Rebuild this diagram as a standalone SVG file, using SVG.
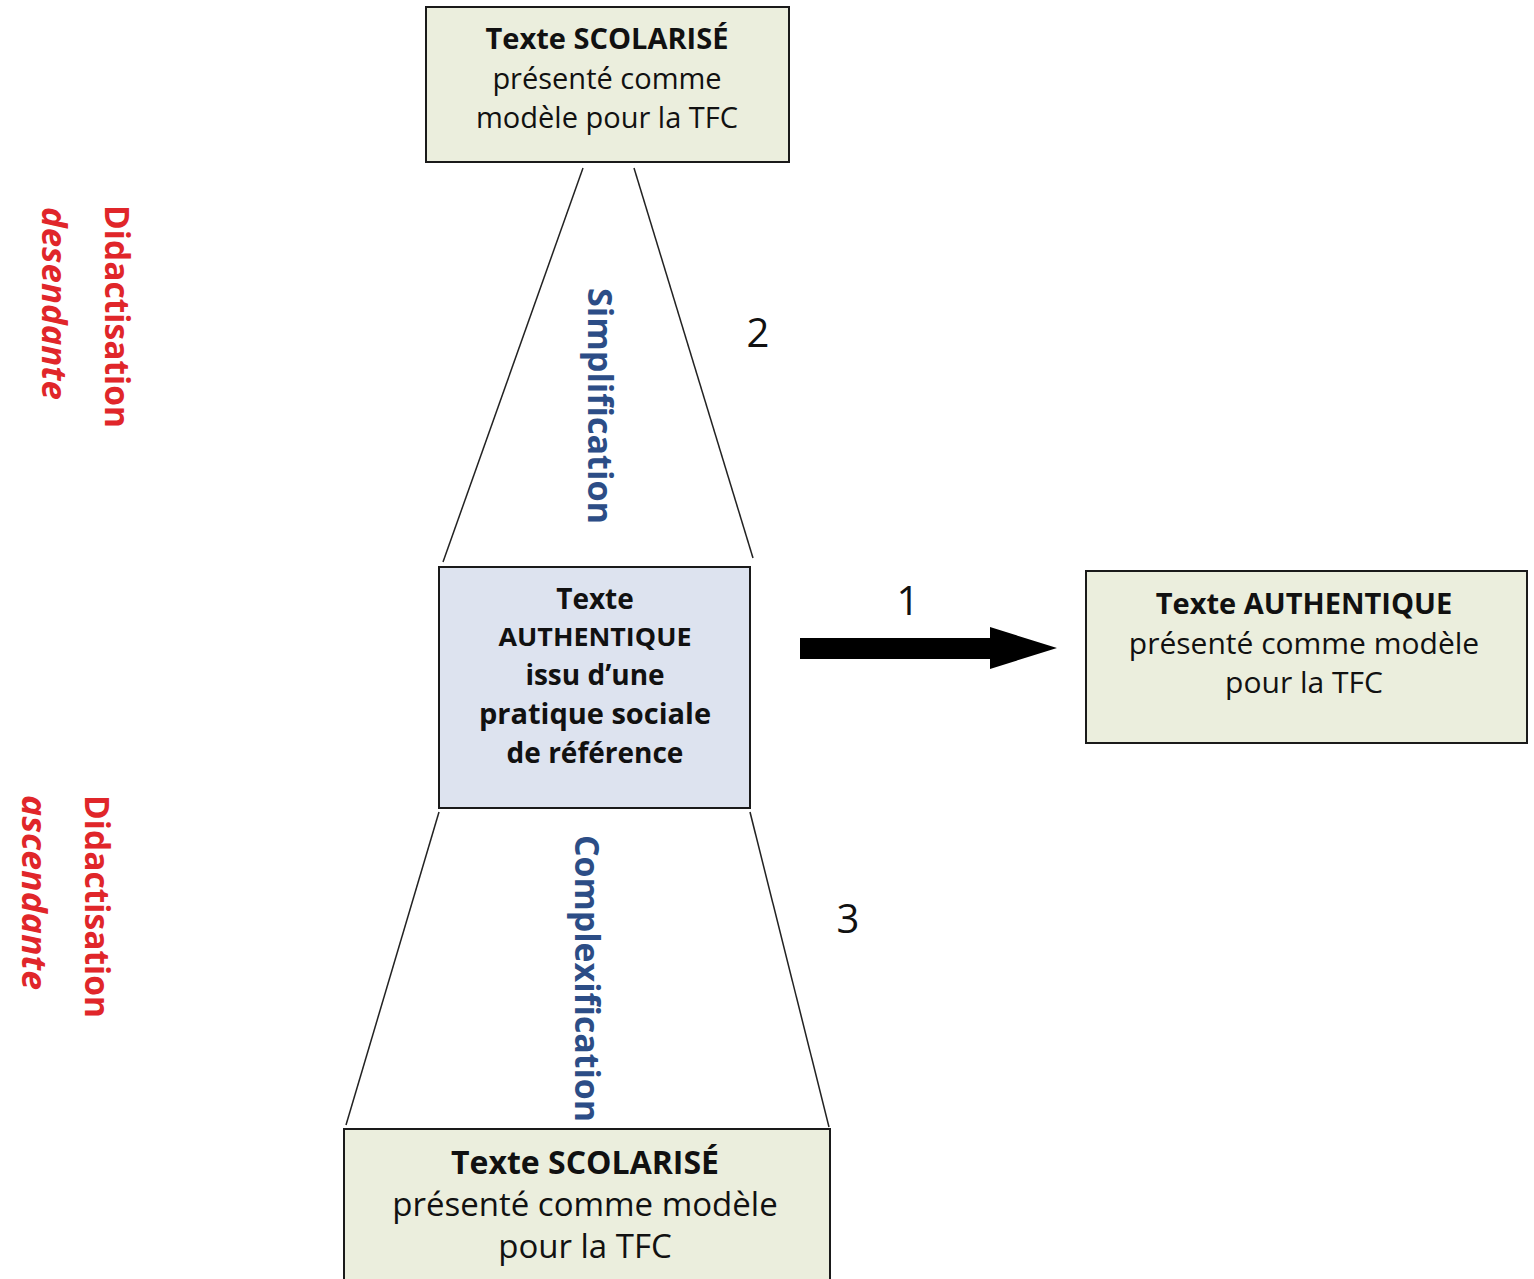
<svg xmlns="http://www.w3.org/2000/svg" width="1534" height="1279" viewBox="0 0 1534 1279">
<style>
.box{stroke:#1a1a1a;stroke-width:2}
.g{fill:#ebeedd}
.b{fill:#dde3ef}
.t{font-family:"Open Sans","Noto Sans",sans-serif;fill:#111;text-anchor:middle}
.bd{font-weight:bold}
.num{font-family:"Open Sans","Noto Sans",sans-serif;font-size:40px;fill:#111}
.red{font-family:"Open Sans","Noto Sans",sans-serif;font-weight:bold;font-size:34px;fill:#e0262a}
.blue{font-family:"Open Sans","Noto Sans",sans-serif;font-weight:bold;font-size:34px;fill:#2c4d86}
.ln{stroke:#222;stroke-width:1.5;fill:none}
</style>
<rect width="1534" height="1279" fill="#fff"/>
<g id="connectors">
<line class="ln" x1="583" y1="168" x2="443" y2="562"/>
<line class="ln" x1="634" y1="168" x2="753" y2="558"/>
<line class="ln" x1="439" y1="812" x2="346" y2="1125"/>
<line class="ln" x1="750" y1="812" x2="829" y2="1127"/>
<polygon points="800,638 990,638 990,627 1057,648 990,669 990,659 800,659" fill="#000"/>
<text class="num" x="908" y="615" text-anchor="middle">1</text>
<text class="num" x="758" y="347" text-anchor="middle">2</text>
<text class="num" x="848" y="933" text-anchor="middle">3</text>
</g>
<g id="top-box">
<rect class="box g" x="426" y="7" width="363" height="155"/>
<text class="t bd" x="607" y="49" font-size="29">Texte SCOLARISÉ</text>
<text class="t" x="607" y="89" font-size="29">présenté comme</text>
<text class="t" x="607" y="128" font-size="29">modèle pour la TFC</text>
</g>
<g id="center-box">
<rect class="box b" x="439" y="567" width="311" height="241"/>
<text class="t bd" x="595" y="609" font-size="28">Texte</text>
<text class="t bd" x="595" y="646" font-size="25" textLength="193" lengthAdjust="spacingAndGlyphs">AUTHENTIQUE</text>
<text class="t bd" x="595" y="685" font-size="28">issu d’une</text>
<text class="t bd" x="595" y="724" font-size="29">pratique sociale</text>
<text class="t bd" x="595" y="763" font-size="28">de référence</text>
</g>
<g id="right-box">
<rect class="box g" x="1086" y="571" width="441" height="172"/>
<text class="t bd" x="1304" y="614" font-size="29">Texte AUTHENTIQUE</text>
<text class="t" x="1304" y="654" font-size="30">présenté comme modèle</text>
<text class="t" x="1304" y="693" font-size="30">pour la TFC</text>
</g>
<g id="bottom-box">
<rect class="box g" x="344" y="1129" width="486" height="160"/>
<text class="t bd" x="585" y="1174" font-size="32">Texte SCOLARISÉ</text>
<text class="t" x="585" y="1216" font-size="33">présenté comme modèle</text>
<text class="t" x="585" y="1258" font-size="33">pour la TFC</text>
</g>
<g id="labels">
<text class="blue" transform="translate(588,288) rotate(90)" textLength="236" lengthAdjust="spacingAndGlyphs">Simplification</text>
<text class="blue" transform="translate(575,835) rotate(90)" textLength="287" lengthAdjust="spacingAndGlyphs">Complexification</text>
<text class="red" transform="translate(105,205) rotate(90)" textLength="223" lengthAdjust="spacingAndGlyphs">Didactisation</text>
<text class="red" font-style="italic" transform="translate(42,207) rotate(90)" textLength="193" lengthAdjust="spacingAndGlyphs">desendante</text>
<text class="red" transform="translate(85,795) rotate(90)" textLength="223" lengthAdjust="spacingAndGlyphs">Didactisation</text>
<text class="red" font-style="italic" transform="translate(22,795) rotate(90)" textLength="195" lengthAdjust="spacingAndGlyphs">ascendante</text>
</g>
</svg>
